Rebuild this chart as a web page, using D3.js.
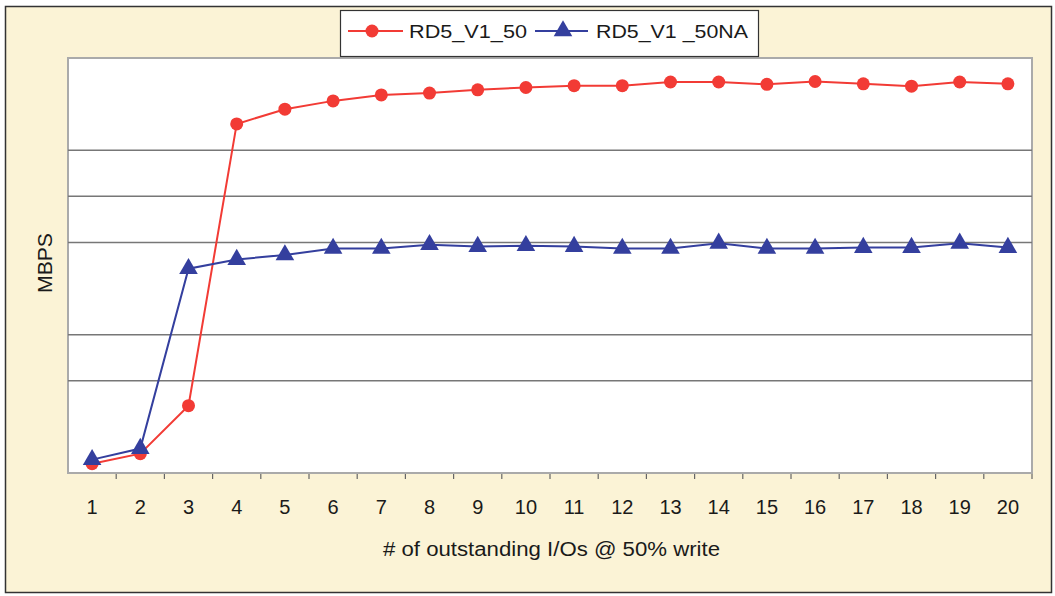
<!DOCTYPE html>
<html>
<head>
<meta charset="utf-8">
<script src="https://cdn.jsdelivr.net/npm/d3@7"></script>
<style>
  body { margin: 0; background: #ffffff; }
  text { font-family: "Liberation Sans", Arial, sans-serif; fill: #1a1a1a; }
</style>
</head>
<body>
<div id="chart"></div>
<script>
// 資料 (no y labels shown in the original)
var ios = d3.range(1, 21).map(String);
var rd50 = [2.0, 4.2, 14.6, 75.7, 78.9, 80.7, 82.0, 82.4, 83.1, 83.6, 84.0, 84.0, 84.8, 84.8, 84.3, 84.9, 84.4, 83.9, 84.8, 84.4];
var rd50na = [2.9, 5.3, 44.3, 46.3, 47.3, 48.7, 48.7, 49.5, 49.1, 49.3, 49.1, 48.7, 48.7, 49.8, 48.7, 48.7, 48.9, 48.9, 49.8, 48.9];
var gridValues = [20, 30, 50, 60, 70];
var seriesNames = ["RD5_V1_50", "RD5_V1 _50NA"];

var width = 1055, height = 596;
var plot = { left: 68, right: 1032, top: 58, bottom: 473 };

var svg = d3.select("#chart").append("svg")
    .attr("width", width)
    .attr("height", height);

// 外框
svg.append("rect")
    .attr("x", 5.5).attr("y", 6.5)
    .attr("width", 1046).attr("height", 586)
    .attr("fill", "#fbf3d6")
    .attr("stroke", "#333")
    .attr("stroke-width", 1.5);

var x = d3.scaleBand().domain(ios).range([plot.left, plot.right]);
var y = d3.scaleLinear().domain([0, 90]).range([plot.bottom, plot.top]);

// plot area
svg.append("rect")
    .attr("x", plot.left).attr("y", plot.top)
    .attr("width", plot.right - plot.left).attr("height", plot.bottom - plot.top)
    .attr("fill", "#fff")
    .attr("stroke", "#aaa")
    .attr("stroke-width", 2);

svg.append("g").selectAll("line")
    .data(gridValues)
    .join("line")
    .attr("x1", plot.left).attr("x2", plot.right)
    .attr("y1", d => y(d)).attr("y2", d => y(d))
    .attr("stroke", "#777")
    .attr("stroke-width", 1.5);

// x axis
var xAxis = d3.axisBottom(x).tickSize(0).tickPadding(27);
var gx = svg.append("g")
    .attr("transform", "translate(0," + plot.bottom + ")")
    .call(xAxis);
gx.select(".domain").remove();
gx.selectAll("text").style("font-size", "20px").attr("fill", "#1a1a1a");

svg.append("g").selectAll("line")
    .data(ios.slice(1).concat(["end"]))
    .join("line")
    .attr("x1", d => d === "end" ? plot.right : x(d))
    .attr("x2", d => d === "end" ? plot.right : x(d))
    .attr("y1", plot.bottom + 1).attr("y2", plot.bottom + 6)
    .attr("stroke", "#666")
    .attr("stroke-width", 1.2);

svg.append("text")
    .attr("x", 383).attr("y", 556)
    .attr("textLength", 337)
    .attr("lengthAdjust", "spacingAndGlyphs")
    .style("font-size", "20px")
    .text("# of outstanding I/Os @ 50% write");

svg.append("text")
    .attr("transform", "translate(52,293) rotate(-90)")
    .attr("textLength", 60)
    .attr("lengthAdjust", "spacingAndGlyphs")
    .style("font-size", "20px")
    .text("MBPS");

// lines
var line = d3.line()
    .x((d, i) => x(ios[i]) + x.bandwidth() / 2)
    .y(d => y(d));

var colors = ["#f23b35", "#343f9e"];
var tri = d3.symbol().type(d3.symbolTriangle).size(150);

svg.append("path").datum(rd50)
    .attr("d", line).attr("fill", "none")
    .attr("stroke", colors[0]).attr("stroke-width", 2);
svg.append("path").datum(rd50na)
    .attr("d", line).attr("fill", "none")
    .attr("stroke", colors[1]).attr("stroke-width", 2);

svg.append("g").selectAll("circle")
    .data(rd50)
    .join("circle")
    .attr("cx", (d, i) => x(ios[i]) + x.bandwidth() / 2)
    .attr("cy", d => y(d))
    .attr("r", 6.5)
    .attr("fill", colors[0]);

svg.append("g").selectAll("path")
    .data(rd50na)
    .join("path")
    .attr("d", tri)
    .attr("transform", (d, i) => "translate(" + (x(ios[i]) + x.bandwidth() / 2) + "," + y(d) + ")")
    .attr("fill", colors[1]);

// legend
var lg = svg.append("g");
lg.append("rect")
    .attr("x", 340.5).attr("y", 10.5)
    .attr("width", 418).attr("height", 46)
    .attr("fill", "#fff")
    .attr("stroke", "#333")
    .attr("stroke-width", 1.2);

lg.append("line").attr("x1", 348).attr("x2", 403).attr("y1", 31).attr("y2", 31)
    .attr("stroke", colors[0]).attr("stroke-width", 2);
lg.append("circle").attr("cx", 372).attr("cy", 31).attr("r", 6.5).attr("fill", colors[0]);
lg.append("text").attr("x", 409).attr("y", 38)
    .attr("textLength", 118).attr("lengthAdjust", "spacingAndGlyphs")
    .style("font-size", "19px").text(seriesNames[0]);

lg.append("line").attr("x1", 535).attr("x2", 588).attr("y1", 31).attr("y2", 31)
    .attr("stroke", colors[1]).attr("stroke-width", 2);
lg.append("path").attr("d", tri).attr("transform", "translate(563,31)").attr("fill", colors[1]);
lg.append("text").attr("x", 596).attr("y", 38)
    .attr("textLength", 152).attr("lengthAdjust", "spacingAndGlyphs")
    .style("font-size", "19px").text(seriesNames[1]);
</script>
</body>
</html>
